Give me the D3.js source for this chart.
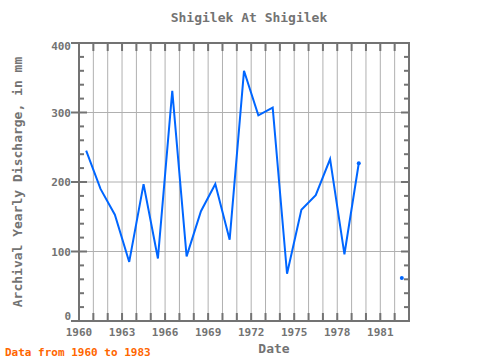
<!DOCTYPE html>
<html>
<head>
<meta charset="utf-8">
<script src="https://cdn.jsdelivr.net/npm/d3@7"></script>
<style>
  body { margin: 0; background: white; }
  text { font-family: "DejaVu Sans Mono", monospace; font-weight: bold; }
</style>
</head>
<body>
<script>
const years = d3.range(1960, 1983);
const discharge = [245, 190, 153, 85, 197, 90, 331, 93, 158, 197, 117, 360, 296, 307, 68, 160, 181, 233, 96, 227, null, null, 62];
const xTicks = [1960, 1963, 1966, 1969, 1972, 1975, 1978, 1981];
const yTicks = [0, 100, 200, 300, 400];

const WIDTH = 480, HEIGHT = 360;
const L = 79, R = 409, T = 43, B = 321;
const GRAY = "#737373", GRID = "#b0b0b0";

const svg = d3.select("body").append("svg")
  .attr("width", WIDTH).attr("height", HEIGHT);

const x = d3.scaleLinear().domain([1960, 1983]).range([L, R]);
const y = d3.scaleLinear().domain([0, 400]).range([B, T]);

// grid
svg.append("g").selectAll("line")
  .data(d3.range(1961, 1983))
  .join("line")
  .attr("x1", d => x(d)).attr("x2", d => x(d))
  .attr("y1", T).attr("y2", B)
  .attr("stroke", GRID);

svg.append("g").selectAll("line")
  .data(yTicks.slice(1, -1))
  .join("line")
  .attr("x1", L).attr("x2", R)
  .attr("y1", d => y(d)).attr("y2", d => y(d))
  .attr("stroke", GRID);

// ticks (inward)
const tk = svg.append("g").attr("stroke", GRAY).attr("stroke-width", 2);
tk.selectAll(".xb").data(d3.range(1961, 1983)).join("line")
  .attr("x1", d => x(d)).attr("x2", d => x(d))
  .attr("y1", B).attr("y2", B - 8);
tk.selectAll(".xt").data(d3.range(1961, 1983)).join("line")
  .attr("x1", d => x(d)).attr("x2", d => x(d))
  .attr("y1", T).attr("y2", T + 8);
const minors = d3.range(20, 400, 20);
const isMajor = d => yTicks.includes(d);
tk.selectAll(".yl").data(minors).join("line")
  .attr("x1", d => isMajor(d) ? L - 8 : L).attr("x2", d => isMajor(d) ? L + 8 : L + 5)
  .attr("y1", d => y(d)).attr("y2", d => y(d));
tk.selectAll(".yr").data(minors).join("line")
  .attr("x1", d => isMajor(d) ? R - 8 : R - 5).attr("x2", R)
  .attr("y1", d => y(d)).attr("y2", d => y(d));
tk.selectAll(".ye").data([0, 400]).join("line")
  .attr("x1", L - 8).attr("x2", L)
  .attr("y1", d => y(d)).attr("y2", d => y(d));

// frame
svg.append("rect")
  .attr("x", L).attr("y", T).attr("width", R - L).attr("height", B - T)
  .attr("fill", "none").attr("stroke", GRAY).attr("stroke-width", 2);

// tick labels
svg.append("g").selectAll("text").data(xTicks).join("text")
  .attr("x", d => x(d)).attr("y", B + 15)
  .attr("text-anchor", "middle").attr("font-size", 11).attr("fill", GRAY)
  .text(d => d);

svg.append("g").selectAll("text").data(yTicks).join("text")
  .attr("x", L - 8)
  .attr("y", d => d == 0 ? y(d) - 1 : d == 400 ? y(d) + 7 : y(d) + 4)
  .attr("text-anchor", "end").attr("font-size", 11).attr("fill", GRAY)
  .text(d => d);

// data line
const pts = years.map((yr, i) => ({ yr: yr + 0.5, v: discharge[i] }));
const line = d3.line()
  .defined(d => d.v != null)
  .x(d => x(d.yr)).y(d => y(d.v));

svg.append("path")
  .datum(pts)
  .attr("d", line)
  .attr("fill", "none")
  .attr("stroke", "#0066ff")
  .attr("stroke-width", 2);

svg.append("g").selectAll("circle")
  .data(pts.filter((d, i) => d.v != null && (i == pts.length - 1 || pts[i + 1].v == null)))
  .join("circle")
  .attr("cx", d => x(d.yr)).attr("cy", d => y(d.v))
  .attr("r", 2).attr("fill", "#0066ff");

// titles
svg.append("text")
  .attr("x", 249).attr("y", 22)
  .attr("text-anchor", "middle").attr("font-size", 13).attr("fill", GRAY)
  .text("Shigilek At Shigilek");

svg.append("text")
  .attr("x", 274).attr("y", 353)
  .attr("text-anchor", "middle").attr("font-size", 13).attr("fill", GRAY)
  .text("Date");

svg.append("text")
  .attr("transform", "translate(22,182) rotate(-90)")
  .attr("text-anchor", "middle").attr("font-size", 13).attr("fill", GRAY)
  .text("Archival Yearly Discharge, in mm");

svg.append("text")
  .attr("x", 5).attr("y", 356)
  .attr("font-size", 11).attr("fill", "#ff6600")
  .text("Data from 1960 to 1983");
</script>
</body>
</html>
